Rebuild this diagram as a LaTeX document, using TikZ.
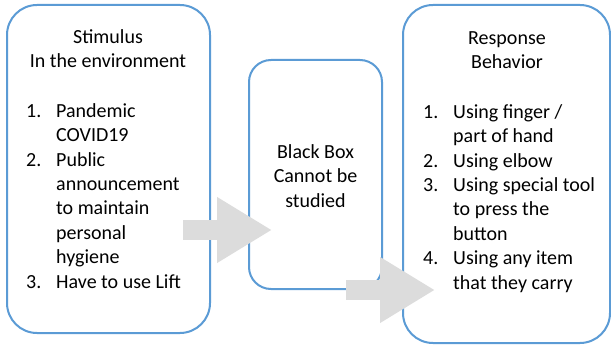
\documentclass[tikz,border=0pt]{standalone}
\usepackage{fontspec}
\setmainfont{Carlito}
\usepackage[HTML]{xcolor}
\usepackage{tikz}
\usetikzlibrary{positioning, arrows.meta}

\definecolor{boxblue}{HTML}{5B9BD5}
\definecolor{arrowgray}{HTML}{DCDCDC}

\tikzset{
  roundbox/.style={draw=boxblue, line width=2pt, inner sep=0pt, fill=white},
  boxtext/.style={inner sep=0pt, anchor=north, font=\fontsize{20}{24.4}\selectfont},
  bigarrow/.style={arrowgray, line width=20pt, -{Triangle[length=55pt, width=62pt]}}
}

\newcommand{\itemnum}[1]{\makebox[30pt][l]{#1}}
\newcommand{\itemgap}{\hspace*{30pt}}

\begin{document}
\begin{tikzpicture}[x=1pt, y=-1pt]
\useasboundingbox (0,0) rectangle (611,350);

% Boxes
\node[roundbox, rounded corners=30pt, minimum width=203pt, minimum height=328pt] (stim) at (108.5,169) {};
\node[roundbox, rounded corners=22pt, minimum width=133pt, minimum height=229pt] (blackbox) at (315.5,174.5) {};
\node[roundbox, rounded corners=30pt, minimum width=207pt, minimum height=338pt] (resp) at (506.5,174) {};

% Stimulus text
\node[boxtext, align=center] (stimhead) at (108,26) {\strut Stimulus\\In the environment};
\node[boxtext, anchor=north west, align=left] (stimlist) at (26,100) {\strut\itemnum{1.}Pandemic\\
\itemgap COVID19\\
\itemnum{2.}Public\\
\itemgap announcement\\
\itemgap to maintain\\
\itemgap personal\\
\itemgap hygiene\\
\itemnum{3.}Have to use Lift};

% Black box text
\node[boxtext, align=center] (bbtext) at (315.5,141) {\strut Black Box\\Cannot be\\studied};

% Response text
\node[boxtext, align=center] (resphead) at (507,27) {\strut Response\\Behavior};
\node[boxtext, anchor=north west, align=left] (resplist) at (423,101) {\strut\itemnum{1.}Using finger /\\
\itemgap part of hand\\
\itemnum{2.}Using elbow\\
\itemnum{3.}Using special tool\\
\itemgap to press the\\
\itemgap button\\
\itemnum{4.}Using any item\\
\itemgap that they carry};

% Block arrows (drawn over the borders)
\coordinate (a1s) at (183,230);
\coordinate (a1e) at (272,230);
\coordinate (a2s) at (346,290);
\coordinate (a2e) at (435,290);
\draw[bigarrow] (a1s) -- (a1e);
\draw[bigarrow] (a2s) -- (a2e);

\end{tikzpicture}
\end{document}
